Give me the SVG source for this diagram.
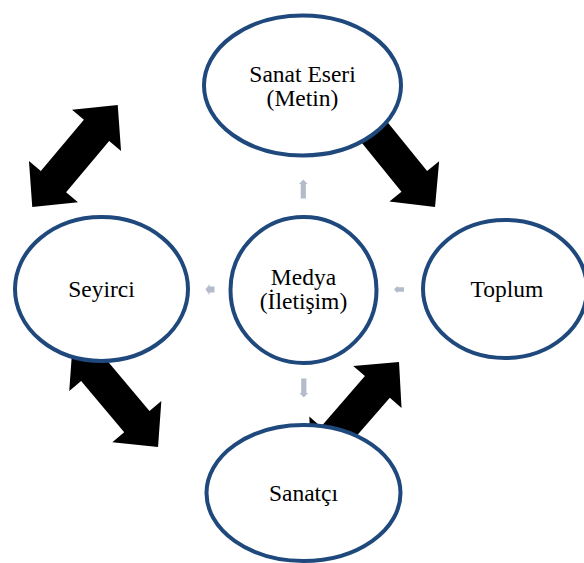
<svg xmlns="http://www.w3.org/2000/svg" width="584" height="563" viewBox="0 0 584 563">
<defs>
<style>
.node ellipse{fill:#ffffff;stroke:#1f497d;stroke-width:4}
.lbl{font-family:"Liberation Serif","Times New Roman",serif;font-size:23.5px;fill:#000;text-anchor:middle}
.big{fill:#000}
.small{fill:#b4bccb}
</style>
<path id="dbl" d="M66.5,0 L33.5,-32 L33.5,-16.5 L-33.5,-16.5 L-33.5,-32 L-66.5,0 L-33.5,32 L-33.5,16.5 L33.5,16.5 L33.5,32 Z"/>
<path id="sm" d="M0,-9.5 L4.3,-5 L2.6,-5 L2.6,9.5 L-2.6,9.5 L-2.6,-5 L-4.3,-5 Z"/>
</defs>
<rect width="584" height="563" fill="#ffffff"/>
<g id="connectors">
<use href="#dbl" class="big" transform="translate(75,156) rotate(-50)"/>
<use href="#dbl" class="big" transform="translate(393.2,155.3) rotate(51)"/>
<use href="#dbl" class="big" transform="translate(115.3,396) rotate(50)"/>
<use href="#dbl" class="big" transform="translate(355.4,412.2) rotate(-49)"/>
<use href="#sm" class="small" transform="translate(303.3,189)"/>
<use href="#sm" class="small" transform="translate(303.8,388) rotate(180)"/>
<path class="small" d="M205.5,289.5 L209.5,284 L209.5,286.5 L214.5,286.5 L214.5,292.5 L209.5,292.5 L209.5,295 Z"/>
<path class="small" d="M394,289.5 L397.5,285.8 L397.5,287.3 L404,287.3 L404,291.7 L397.5,291.7 L397.5,293.2 Z"/>
</g>
<g id="node-top" class="node">
<ellipse cx="302.5" cy="85.5" rx="98.5" ry="70"/>
<text class="lbl" x="302.5" y="82">Sanat Eseri</text>
<text class="lbl" x="302.5" y="106">(Metin)</text>
</g>
<g id="node-left" class="node">
<ellipse cx="101.5" cy="289" rx="86.5" ry="72"/>
<text class="lbl" x="101.5" y="297">Seyirci</text>
</g>
<g id="node-center" class="node">
<ellipse cx="303.5" cy="290" rx="73" ry="73"/>
<text class="lbl" x="303.5" y="285">Medya</text>
<text class="lbl" x="303.5" y="308.5">(İletişim)</text>
</g>
<g id="node-right" class="node">
<ellipse cx="505" cy="289" rx="82" ry="69"/>
<text class="lbl" x="507" y="297">Toplum</text>
</g>
<g id="node-bottom" class="node">
<ellipse cx="303.5" cy="493" rx="97" ry="68"/>
<text class="lbl" x="303.5" y="501">Sanatçı</text>
</g>
</svg>
